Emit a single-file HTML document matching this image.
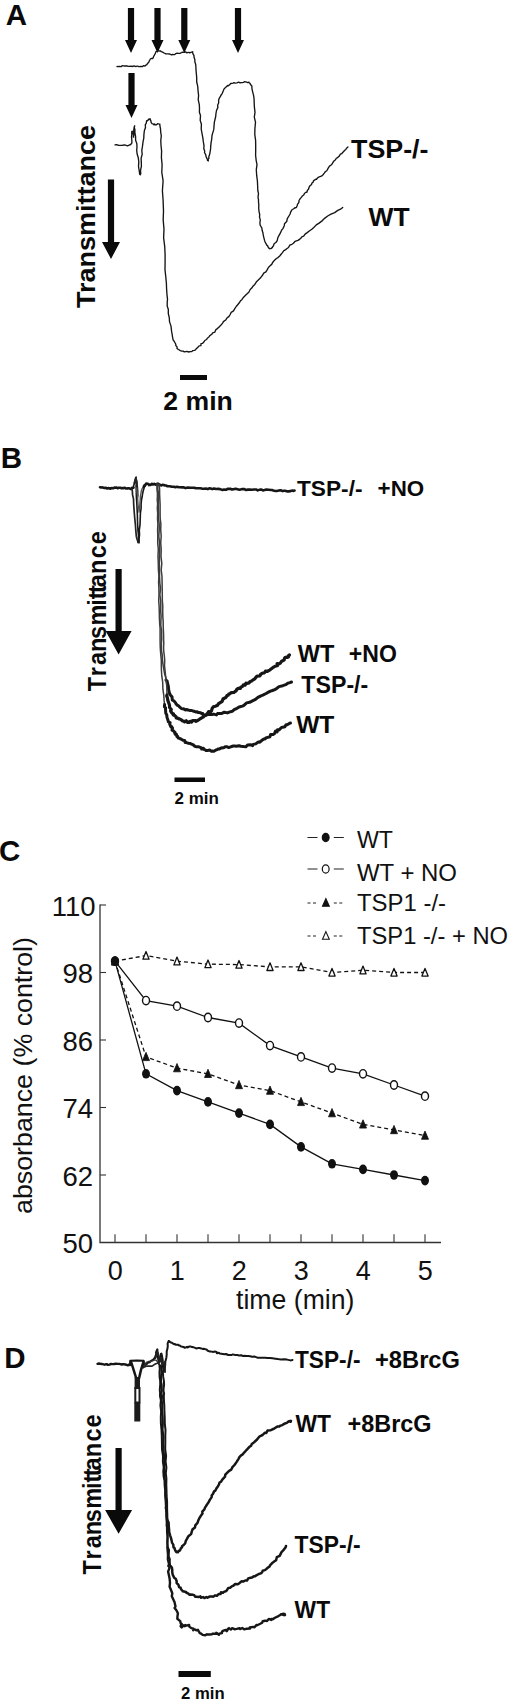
<!DOCTYPE html>
<html><head><meta charset="utf-8"><title>Figure</title>
<style>
html,body{margin:0;padding:0;background:#fff;}
svg{display:block;font-family:"Liberation Sans",sans-serif;}
</style></head><body>
<svg width="520" height="1705" viewBox="0 0 520 1705">
<rect width="520" height="1705" fill="#fff"/>
<text x="5.8" y="24.5" font-size="29.5" font-weight="bold" text-anchor="start" fill="#0a0a0a" >A</text>
<path d="M127.9 8.0H134.1V40.0H137.0L131.0 53.0L125.0 40.0H127.9Z" fill="#0a0a0a"/>
<path d="M154.4 8.0H160.6V40.0H163.5L157.5 53.0L151.5 40.0H154.4Z" fill="#0a0a0a"/>
<path d="M181.2 8.0H187.4V40.0H190.3L184.3 53.0L178.3 40.0H181.2Z" fill="#0a0a0a"/>
<path d="M234.9 8.0H241.1V40.0H244.0L238.0 53.0L232.0 40.0H234.9Z" fill="#0a0a0a"/>
<path d="M128.4 73.0H134.6V105.0H137.5L131.5 118.0L125.5 105.0H128.4Z" fill="#0a0a0a"/>
<path d="M107.9 179.5H114.1V242.0H120.0L111.0 259.0L102.0 242.0H107.9Z" fill="#0a0a0a"/>
<text transform="translate(95.0 308.0) rotate(-90)" font-size="26" font-weight="bold" fill="#0a0a0a" textLength="183.0" lengthAdjust="spacingAndGlyphs">Transmittance</text>
<polyline points="117.0,66.5 118.0,66.6 119.1,66.3 121.3,66.6 122.1,65.7 123.5,65.9 124.9,66.0 126.9,65.8 128.3,66.3 129.0,66.3 130.7,66.2 132.3,66.5 134.1,65.9 135.9,66.6 137.2,66.0 138.9,66.7 141.0,66.4 142.5,66.6 143.3,65.7 145.0,66.0 145.8,65.2 146.9,64.6 147.6,63.3 148.6,62.6 149.4,60.7 149.8,60.0 150.3,59.0 151.2,58.5 151.7,58.5 152.5,58.5 153.2,57.7 153.6,56.5 154.5,54.9 155.4,53.2 156.0,51.6 158.0,50.7 158.7,50.9 159.8,51.0 160.7,51.0 161.3,51.7 162.6,52.1 164.1,53.0 165.8,53.9 168.0,53.9 169.7,54.0 171.5,54.9 172.6,54.5 173.9,54.6 174.8,54.5 175.9,53.6 177.1,53.2 178.0,53.4 180.1,53.3 181.7,52.5 182.3,52.1 184.5,52.3 185.1,52.0 185.9,51.9 186.7,52.9 188.3,52.3 188.9,52.3 189.6,52.9 190.9,52.3 191.3,52.1 192.8,51.9 192.5,52.0 193.1,54.2 194.0,55.7 194.0,57.0 194.9,60.0 194.8,61.5 195.7,64.5 195.9,67.3 196.1,71.2 196.4,74.2 196.7,77.6 196.7,82.0 197.7,86.1 198.1,91.4 198.6,95.5 198.2,99.7 199.3,104.6 199.5,108.0 199.4,112.3 200.5,115.5 200.2,120.4 201.4,124.2 201.2,129.0 202.0,133.3 202.9,138.2 203.3,141.7 204.0,145.6 203.8,148.7 204.7,151.1 204.5,152.5 205.8,154.8 206.0,156.5 207.0,158.6 207.4,159.5 207.5,160.4 208.4,160.9 207.9,159.8 208.9,158.3 208.8,156.8 209.6,154.6 210.1,151.9 210.6,148.9 210.7,146.4 211.1,142.4 211.7,139.3 212.0,135.5 212.9,132.4 213.7,129.9 214.0,126.5 214.3,122.6 214.9,119.9 215.7,116.5 215.9,114.0 216.5,110.5 217.9,107.4 217.6,105.2 218.7,102.8 218.6,100.4 219.2,98.3 220.6,96.2 220.8,95.5 222.3,93.3 222.8,91.9 223.3,90.8 223.8,89.5 224.5,88.4 226.0,87.1 226.7,86.4 227.6,85.5 228.1,85.9 229.5,84.7 229.6,84.9 230.7,83.5 232.0,83.4 233.1,83.1 234.0,82.7 235.0,83.1 236.9,82.9 238.6,82.2 240.1,82.9 241.0,82.6 242.0,82.7 243.4,82.3 244.7,81.7 246.5,82.1 247.7,82.6 248.9,82.1 249.3,83.0 250.0,83.4 250.5,84.5 250.9,85.0 251.7,85.6 251.9,86.9 251.9,88.2 252.3,90.3 253.0,93.1 253.7,95.9 254.1,99.3 254.2,103.3 254.4,107.2 255.0,112.3 254.3,117.1 255.5,122.2 254.9,128.8 254.8,134.7 255.6,140.3 255.7,145.7 255.7,150.3 255.6,155.2 256.2,160.6 257.0,164.6 256.3,169.7 256.7,175.7 257.4,180.8 257.6,185.1 257.8,190.5 258.5,193.7 258.0,197.2 258.5,199.6 258.5,202.0 258.8,204.9 258.7,208.2 259.0,211.3 259.7,214.5 259.5,217.1 260.3,219.9 259.9,222.8 260.1,224.9 260.8,226.2 261.9,228.2 262.1,230.3 263.0,233.0 263.2,234.8 263.9,237.8 264.5,240.2 265.1,242.0 266.0,243.6 266.6,244.7 266.7,245.2 267.6,245.7 268.0,247.0 268.7,247.3 268.5,248.0 269.5,248.5 269.8,248.8 270.1,248.6 270.9,248.6 272.5,247.4 272.3,247.1 273.5,245.7 274.1,243.8 275.9,242.5 277.2,240.6 277.8,237.8 279.2,235.1 280.3,233.2 281.7,230.0 282.9,228.6 284.3,225.8 284.5,223.8 286.7,221.5 287.3,218.7 288.9,216.0 290.1,214.0 290.5,212.3 291.9,209.8 292.6,209.5 293.6,208.8 295.2,207.6 295.6,207.9 296.5,207.2 297.1,205.7 297.5,204.4 298.9,202.4 299.0,200.5 300.1,198.8 301.1,197.6 302.1,196.3 303.9,194.8 304.4,193.6 305.3,192.6 307.0,192.0 307.4,190.3 308.5,189.3 308.8,188.3 309.0,187.4 309.9,185.8 311.6,184.4 311.8,183.3 313.3,182.0 313.3,181.2 314.1,180.3 316.0,179.2 316.5,179.4 317.1,178.4 318.0,177.6 319.3,176.8 321.4,176.2 322.8,175.0 324.3,173.1 325.5,171.5 326.8,170.7 328.2,168.1 329.5,166.1 331.5,164.8 332.6,163.2 333.7,161.2 334.3,160.7 335.5,159.8 336.1,158.5 337.5,157.7 338.4,156.7 339.3,156.1 339.9,154.9 340.4,154.2 341.7,153.7 342.7,152.5 344.8,150.3 345.8,149.4 347.1,147.7 347.9,147.0" fill="none" stroke="#141414" stroke-width="1.35" stroke-linejoin="round" stroke-linecap="round" />
<polyline points="115.0,144.8 116.3,144.6 117.6,144.9 118.3,145.3 119.9,145.3 122.1,145.4 124.1,145.0 125.5,145.2 127.4,145.8 129.2,145.1 130.7,144.5 131.9,142.8 131.8,139.8 131.5,137.1 131.8,134.3 131.7,133.2 131.8,131.5 131.9,131.3 132.2,131.2 133.3,132.0 133.4,132.2 133.0,133.4 133.2,134.0 133.5,135.6 133.6,137.2 133.2,137.0 133.8,135.6 133.8,132.2 133.8,129.6 134.2,127.1 134.7,125.8 134.3,127.3 134.9,129.7 134.9,132.5 135.6,136.7 135.6,140.3 136.8,143.5 137.0,146.7 136.7,150.5 137.2,154.3 138.3,157.8 138.8,162.0 138.5,166.7 139.2,170.5 139.7,174.3 140.3,174.8 140.8,173.5 140.5,170.7 141.4,166.1 141.3,162.1 141.1,158.2 142.2,154.4 141.8,150.3 142.5,146.2 143.1,141.3 143.8,138.1 143.9,134.6 144.4,130.5 145.5,127.6 145.3,124.6 146.2,123.5 146.4,122.0 146.6,120.9 147.0,120.6 147.7,120.5 147.5,120.7 148.2,120.0 148.4,119.2 149.3,119.3 150.0,118.8 150.4,119.0 150.1,119.6 150.9,120.9 151.2,122.7 152.0,123.7 152.9,123.8 153.3,124.0 153.7,124.7 154.6,124.0 154.8,124.8 156.2,124.7 156.5,124.7 157.8,123.6 158.2,123.9 159.9,124.1 159.8,125.2 160.1,127.0 160.5,128.6 160.7,132.1 161.3,135.9 160.8,140.2 161.0,145.2 161.6,150.9 161.4,157.5 162.1,164.6 161.8,172.3 163.1,180.8 162.4,190.8 163.1,200.2 163.5,210.9 163.2,220.1 164.0,229.4 163.6,237.7 164.7,246.3 165.1,254.4 165.1,262.1 165.0,269.8 165.7,276.0 166.4,283.5 166.6,289.0 167.0,294.8 167.5,299.1 167.2,302.7 167.2,306.1 168.3,309.3 168.3,313.5 169.3,317.8 169.5,321.6 171.0,326.1 171.6,331.4 172.2,334.7 172.6,337.3 173.1,339.8 174.4,341.7 175.8,344.3 175.8,345.5 177.1,346.9 177.0,348.4 177.8,349.1 178.7,349.5 179.4,350.1 180.4,350.6 181.7,351.1 183.2,351.1 184.3,351.9 185.8,351.6 186.9,351.4 188.8,352.0 190.0,351.6 192.0,351.5 192.6,350.6 194.6,350.4 195.7,349.4 196.3,348.8 197.9,347.3 199.1,345.9 200.9,345.7 201.0,343.6 202.5,343.4 203.8,342.1 204.8,340.5 206.6,339.5 207.3,338.2 208.9,337.0 209.8,335.6 211.8,334.3 212.6,332.9 214.9,332.1 215.9,329.6 217.4,328.6 219.1,326.9 221.0,325.1 222.6,323.1 223.4,321.6 226.0,319.7 226.7,318.2 229.0,316.4 230.2,314.5 231.2,312.3 233.5,310.9 234.8,308.6 236.2,306.5 237.3,305.2 239.3,302.8 240.6,300.7 242.0,299.4 243.6,297.2 245.8,295.1 247.4,293.6 248.8,292.2 250.2,289.5 251.7,288.1 252.9,286.3 254.8,284.4 256.1,282.3 257.3,280.9 259.8,278.5 261.0,277.2 262.7,275.0 263.7,273.1 265.9,271.9 267.4,269.4 268.4,267.5 270.2,265.6 271.7,264.4 273.0,261.9 274.3,260.6 276.4,258.5 278.0,257.6 279.7,256.0 281.5,253.8 282.2,252.9 283.9,250.6 285.7,249.6 286.7,248.8 288.5,247.5 289.8,245.2 291.9,244.3 293.4,243.3 294.7,241.7 295.7,241.2 298.0,240.4 299.4,239.4 301.0,238.0 301.7,237.0 303.9,235.9 305.1,234.1 307.2,232.6 309.3,231.0 311.8,229.3 313.8,227.5 316.3,224.9 319.1,223.1 322.4,220.6 324.9,218.1 327.7,216.0 331.0,214.1 334.7,212.6 337.8,210.4 340.5,209.2 342.7,207.5" fill="none" stroke="#141414" stroke-width="1.35" stroke-linejoin="round" stroke-linecap="round" />
<text x="351.0" y="157.5" font-size="26" font-weight="bold" text-anchor="start" fill="#0a0a0a" textLength="77.5" lengthAdjust="spacingAndGlyphs" >TSP-/-</text>
<text x="368.5" y="225.5" font-size="26" font-weight="bold" text-anchor="start" fill="#0a0a0a" textLength="41.0" lengthAdjust="spacingAndGlyphs" >WT</text>
<rect x="180" y="375" width="27" height="5" fill="#0a0a0a"/>
<text x="163.3" y="409.5" font-size="26" font-weight="bold" text-anchor="start" fill="#0a0a0a" textLength="69.5" lengthAdjust="spacingAndGlyphs" >2 min</text>
<text x="0.8" y="467.8" font-size="29.5" font-weight="bold" text-anchor="start" fill="#0a0a0a" >B</text>
<text transform="translate(105.5 690.8) rotate(-90) scale(1 1.080)" x="-0.5 14.6 25.7 38.8 51.8 65.3 85.0 91.5 97.7 103.6 116.8 132.6 146.6" font-size="23.5" font-weight="bold" fill="#0a0a0a">Transmittance</text>
<path d="M115.5 569.0H121.7V631.0H131.6L118.6 654.5L105.6 631.0H115.5Z" fill="#0a0a0a"/>
<polyline points="100.0,487.3 101.2,487.5 102.0,487.4 102.8,487.5 104.4,487.9 105.4,488.0 105.6,487.8 107.1,488.5 108.2,488.1 109.2,488.4 110.5,488.4 110.5,488.7 111.6,488.0 113.5,488.2 114.2,487.8 114.9,487.6 116.2,487.7 116.6,487.5 117.6,488.3 118.7,487.7 120.2,487.8 121.5,488.2 122.5,488.1 123.5,488.1 125.1,487.8 125.7,488.5 127.3,488.5 128.0,488.2 129.3,488.3 130.4,488.9 131.2,488.7 132.1,488.5 132.1,487.9 132.4,488.0 133.5,487.8 133.5,487.5" fill="none" stroke="#161616" stroke-width="2.6" stroke-linejoin="round" stroke-linecap="round" />
<polyline points="133.5,486.5 133.6,485.6 134.3,483.9 134.7,482.1 135.1,480.7 135.2,479.9 135.5,478.3 135.9,477.4 136.1,477.0 136.1,477.6 135.9,478.4 136.1,480.0 136.7,482.1 136.5,484.1 136.1,486.0 136.2,488.4 136.3,492.2 136.4,497.0 136.8,502.8 137.1,509.1 137.4,515.1 137.5,520.8 137.7,525.8 138.0,530.8 138.5,534.8 138.4,538.4 138.3,541.2 138.7,542.7 139.1,542.8 139.1,541.3 139.1,538.3 139.5,534.6 139.3,530.0 140.0,524.8 140.2,519.3 140.4,513.2 141.1,508.1 141.1,504.0 141.5,499.8 142.2,496.5 142.5,494.2 143.0,491.8 143.5,489.8 143.9,488.8 144.1,487.2 144.7,486.4 145.0,485.7 145.6,485.2 146.0,484.5" fill="none" stroke="#161616" stroke-width="1.6" stroke-linejoin="round" stroke-linecap="round" />
<polyline points="131.8,489.0 132.4,491.2 132.5,494.6 133.5,498.9 133.7,504.5 134.2,511.7 134.7,517.7 135.4,524.7 135.8,530.7 136.3,536.2 137.0,539.0 137.7,541.1 138.0,542.5" fill="none" stroke="#222" stroke-width="1.7" stroke-linejoin="round" stroke-linecap="round" />
<polyline points="134.5,483.0 135.2,480.6 135.9,479.0 136.5,481.1 136.9,485.2 137.4,491.0 137.5,496.0" fill="none" stroke="#222" stroke-width="2.2" stroke-linejoin="round" stroke-linecap="round" />
<polyline points="136.8,488.0 136.9,491.4 137.7,495.3 137.7,499.8 138.1,505.1 138.9,509.8 139.0,512.1 139.6,509.7 139.8,504.7 140.2,500.0 140.4,496.5 141.0,492.9 141.5,490.2 142.2,488.4 143.6,486.9 144.0,486.5" fill="none" stroke="#555" stroke-width="1.4" stroke-linejoin="round" stroke-linecap="round" />
<polyline points="143.8,487.0 144.0,486.0 144.8,485.9 144.4,485.5 145.9,484.2 146.3,483.5 146.7,483.7 146.6,483.8 147.8,483.7 148.8,484.4 149.0,485.1 150.1,484.8 150.4,484.9 150.9,484.5 151.8,483.9 152.5,484.0 152.3,484.5 153.3,484.4 154.2,483.9 154.0,484.2 155.1,484.3 155.7,484.3 155.5,484.6 156.5,484.0 156.7,484.4 157.6,483.6 158.0,484.7 158.5,483.9 159.0,484.1 159.7,484.8 161.4,485.5 162.2,485.0 162.6,484.7 163.5,485.0 164.2,485.1 165.0,485.5 166.3,485.5 167.2,486.1 169.3,486.2 171.0,486.5 171.9,486.7 174.0,486.8 175.2,487.2 177.1,486.8 178.8,487.2 180.3,487.2 182.1,487.4 183.5,487.3 185.5,488.1 187.9,487.5 190.3,487.8 192.2,487.7 193.7,487.7 195.8,488.1 198.2,488.3 199.9,488.2 201.9,488.6 203.6,488.8 206.5,488.6 207.8,489.1 209.6,488.3 212.3,489.1 213.9,488.5 216.2,489.0 218.4,488.9 220.0,489.1 222.5,490.0 224.1,489.6 226.4,489.7 227.6,488.9 230.3,488.8 231.9,489.5 234.0,489.1 235.7,488.7 238.4,489.4 239.6,489.7 242.4,489.1 244.4,489.0 245.7,490.0 248.0,489.6 249.8,489.5 251.7,489.8 254.1,489.5 256.4,489.5 257.7,490.4 259.9,489.6 261.6,489.6 263.0,490.4 264.5,490.1 266.4,489.5 268.4,489.8 268.9,489.8 270.9,490.0 272.0,490.0 273.3,490.4 275.5,491.0 276.6,491.0 277.9,490.7 280.2,490.3 281.6,490.6 282.6,491.1 284.2,490.7 285.0,490.8 286.7,491.3 287.4,491.4 288.7,491.4 290.5,491.1 291.3,490.8 292.9,490.6 293.3,490.9 294.5,490.6" fill="none" stroke="#161616" stroke-width="2.6" stroke-linejoin="round" stroke-linecap="round" />
<polyline points="157.8,484.0 158.0,485.4 157.7,487.9 157.9,489.8 158.5,492.8 158.2,496.4 158.4,499.8 158.3,504.1 158.3,508.9 158.5,513.2 158.5,518.5 159.2,524.2 159.2,530.3 158.8,536.2 159.5,542.5 159.7,549.7 159.5,557.0 159.3,563.8 159.5,570.0 159.5,576.2 159.8,582.8 160.5,588.4 159.9,594.8 160.7,600.8 160.8,606.2 160.7,610.9 161.1,616.4 160.9,620.9 160.8,625.9 161.6,630.7 161.6,634.9 161.7,639.0 161.4,643.3 161.4,647.5 161.5,651.0 162.2,654.7 162.3,658.6 162.7,662.3 163.4,666.9 164.1,670.9 164.7,674.4 165.9,677.3 166.0,680.0" fill="none" stroke="#3c3c3c" stroke-width="1.5" stroke-linejoin="round" stroke-linecap="round" /><polyline points="166.0,680.0 167.1,681.1 167.7,684.0 168.4,686.7 168.6,689.4 169.3,692.6 170.2,694.7 172.1,697.0 172.1,697.5 172.3,700.1 173.5,700.6 174.6,701.6 175.4,702.6 175.8,703.5 177.1,705.2 177.2,705.0 178.8,706.0 179.4,706.7 180.1,707.4 180.3,707.6 181.6,708.6 182.8,708.9 183.9,708.8 185.2,709.9 185.9,709.8 186.5,709.4 187.7,710.1 188.6,710.1 190.1,710.5 191.6,710.6 191.8,710.5 193.3,711.2 194.4,711.3 196.2,712.1 197.3,711.8 198.1,712.6 198.7,712.4 200.6,712.7 201.6,713.6 202.7,713.5 202.6,714.4 204.7,715.1 205.7,715.2 207.6,714.6 209.0,714.6 212.1,714.5 213.7,714.1 216.5,714.9 217.5,713.6 220.7,713.4 221.9,713.4 224.3,712.2 227.4,712.9 229.2,712.1 232.2,711.3 234.2,709.6 237.0,708.3 239.1,707.0 242.4,706.1 243.9,705.4 246.6,702.9 249.6,702.3 252.4,700.9 255.0,699.7 257.9,697.4 261.0,695.8 262.8,695.2 266.1,693.5 267.4,692.7 270.5,691.1 272.4,690.5 274.8,689.6 276.6,688.5 279.0,686.6 282.8,685.7 285.7,684.7 288.1,683.1 289.9,682.6 291.5,682.0" fill="none" stroke="#161616" stroke-width="3.0" stroke-linejoin="round" stroke-linecap="round" />
<polyline points="159.2,484.0 159.1,485.5 159.5,488.0 159.6,489.8 159.6,492.9 159.7,496.3 159.9,500.2 160.1,504.4 160.1,509.0 160.1,513.6 160.2,518.5 160.9,524.3 160.7,529.6 161.2,536.3 160.7,542.6 161.2,549.3 161.0,556.7 161.8,563.3 161.2,570.0 162.0,576.5 162.1,582.8 162.2,588.3 162.3,595.0 162.3,600.3 162.8,606.2 162.7,610.9 162.8,616.3 163.2,621.6 163.2,625.8 163.4,630.5 163.6,634.8 163.6,639.5 163.8,643.2 163.6,646.9 163.7,651.4 164.3,655.5 164.7,660.1 164.5,665.6 165.2,671.8 165.8,679.4 166.7,685.3 166.9,690.7 167.0,695.0" fill="none" stroke="#3c3c3c" stroke-width="1.5" stroke-linejoin="round" stroke-linecap="round" /><polyline points="167.0,695.0 166.7,695.9 167.4,697.8 167.8,700.4 169.2,704.2 169.5,705.3 169.6,707.4 171.3,709.5 170.6,711.0 171.3,712.2 172.3,713.3 173.5,714.0 173.3,714.9 174.8,715.5 176.3,717.1 176.2,718.0 178.3,718.4 179.0,718.9 179.4,718.8 181.5,719.9 182.1,720.7 183.6,721.1 183.9,721.1 184.6,721.9 186.2,720.8 187.4,722.4 188.7,721.9 189.2,722.4 190.4,721.3 191.6,722.1 191.9,721.1 193.1,720.6 194.6,720.6 195.5,720.7 195.9,721.3 198.1,720.2 199.2,719.5 199.5,719.1 201.1,718.3 201.8,717.8 203.4,716.9 204.8,715.4 206.0,715.0 207.7,713.2 208.6,711.6 210.5,711.9 211.6,710.6 212.1,708.5 213.4,706.8 215.3,706.2 217.6,705.3 218.3,703.9 221.0,702.1 222.2,701.3 223.0,698.9 223.4,698.8 224.9,697.8 224.8,697.9 225.9,697.5 226.4,696.7 227.0,695.6 228.2,695.2 228.8,694.1 229.9,693.7 231.3,692.6 234.0,692.5 234.9,691.5 236.1,691.0 236.6,689.6 238.2,688.4 240.4,688.4 240.7,687.2 242.6,686.4 243.4,684.8 245.2,685.1 246.0,683.2 246.7,683.5 249.1,682.9 249.8,681.7 251.6,681.1 253.3,679.6 254.1,679.5 255.8,677.6 256.0,677.1 257.3,676.1 259.6,675.9 260.6,675.1 260.6,674.3 262.1,673.3 264.2,672.9 265.2,671.9 265.5,671.1 267.0,671.5 269.7,670.1 271.0,669.0 272.3,668.1 273.1,667.4 273.9,667.0 275.0,666.3 277.3,665.8 277.1,663.5 278.9,664.0 280.3,663.1 281.5,661.4 282.2,660.9 284.2,660.1 284.5,658.3 285.3,657.3 286.9,657.5 288.4,656.9 288.4,656.1 288.1,656.0 288.6,655.6 289.3,655.2 289.4,655.0" fill="none" stroke="#161616" stroke-width="3.2" stroke-linejoin="round" stroke-linecap="round" />
<polyline points="156.8,484.0 157.0,485.3 156.9,487.3 157.0,490.1 157.4,492.8 157.4,496.6 157.2,499.7 157.6,503.8 157.3,508.4 157.7,513.5 157.5,518.4 157.9,524.1 157.6,530.1 157.8,535.8 157.7,543.1 158.3,549.3 158.0,556.4 158.3,563.7 158.4,569.7 158.9,576.0 158.6,582.5 158.9,588.2 159.0,594.4 158.7,600.5 159.1,605.9 159.3,612.1 159.4,618.0 159.7,623.6 160.1,628.7 160.1,634.3 160.1,640.0 160.2,645.6 160.4,650.0 160.8,654.8 161.3,660.2 161.3,665.0 161.4,669.9 161.8,676.2 162.7,682.1 162.9,689.2 163.8,695.4 164.1,700.4 164.6,704.6" fill="none" stroke="#3c3c3c" stroke-width="1.5" stroke-linejoin="round" stroke-linecap="round" /><polyline points="164.6,704.6 164.4,706.8 165.6,707.7 165.5,709.5 165.8,713.3 166.8,715.1 167.0,717.5 167.4,718.3 167.7,719.5 168.5,722.0 170.1,722.7 169.7,724.1 170.9,726.9 171.5,726.4 172.5,728.1 172.0,730.2 172.8,730.2 175.1,732.6 174.7,732.8 175.2,734.2 176.4,734.3 176.9,736.5 177.6,736.3 178.3,738.1 180.6,738.6 180.3,738.8 181.8,739.5 183.0,740.3 184.8,740.5 185.1,742.4 186.5,742.6 188.4,743.2 190.5,743.4 190.3,743.6 193.4,744.9 193.6,745.3 194.9,746.3 196.0,746.7 198.4,746.7 200.1,747.3 201.4,747.8 201.7,749.1 203.4,748.2 203.9,749.3 205.3,749.8 206.1,750.6 207.6,750.5 209.8,750.1 211.1,751.2 211.7,750.9 213.9,751.3 215.9,750.0 217.2,749.6 218.0,748.9 219.5,748.9 221.5,747.8 222.0,748.0 224.2,747.6 225.0,746.7 227.2,746.8 228.7,747.6 229.9,747.2 233.2,746.0 234.8,746.1 236.3,746.3 239.0,745.7 240.9,746.2 243.5,746.6 245.9,746.8 247.6,744.9 250.5,744.7 252.6,745.6 253.2,744.4 255.7,743.9 257.6,742.5 258.7,741.9 259.9,742.2 262.1,740.2 263.4,739.2 265.2,738.8 265.6,738.2 266.8,737.6 270.0,736.7 270.6,734.4 273.1,734.6 274.5,733.6 275.5,731.1 277.1,731.9 277.5,729.8 279.1,729.9 281.2,727.7 282.7,727.2 284.9,726.7 286.0,724.8 287.2,724.8 289.7,723.2 290.5,723.0" fill="none" stroke="#161616" stroke-width="3.0" stroke-linejoin="round" stroke-linecap="round" />
<text x="297.0" y="495.8" font-size="22.6" font-weight="bold" text-anchor="start" fill="#0a0a0a" textLength="65.5" lengthAdjust="spacingAndGlyphs" >TSP-/-</text>
<text x="377.6" y="495.8" font-size="22.6" font-weight="bold" text-anchor="start" fill="#0a0a0a" textLength="46.6" lengthAdjust="spacingAndGlyphs" >+NO</text>
<text x="297.8" y="662.3" font-size="23.2" font-weight="bold" text-anchor="start" fill="#0a0a0a" textLength="36.5" lengthAdjust="spacingAndGlyphs" >WT</text>
<text x="348.8" y="662.3" font-size="23.2" font-weight="bold" text-anchor="start" fill="#0a0a0a" textLength="48.0" lengthAdjust="spacingAndGlyphs" >+NO</text>
<text x="301.3" y="693.0" font-size="23.4" font-weight="bold" text-anchor="start" fill="#0a0a0a" textLength="67.0" lengthAdjust="spacingAndGlyphs" >TSP-/-</text>
<text x="296.2" y="733.0" font-size="23.2" font-weight="bold" text-anchor="start" fill="#0a0a0a" textLength="38.2" lengthAdjust="spacingAndGlyphs" >WT</text>
<rect x="174.5" y="777.5" width="30.5" height="4.5" fill="#0a0a0a"/>
<text x="174.5" y="803.8" font-size="16" font-weight="bold" text-anchor="start" fill="#0a0a0a" textLength="44.3" lengthAdjust="spacingAndGlyphs" >2 min</text>
<text x="-1.0" y="861.2" font-size="29.5" font-weight="bold" text-anchor="start" fill="#0a0a0a" >C</text>
<path d="M100 904.5V1242.5H441" fill="none" stroke="#333" stroke-width="1.3"/>
<path d="M100 905.0H106" stroke="#333" stroke-width="1.1"/>
<path d="M100 972.5H106" stroke="#333" stroke-width="1.1"/>
<path d="M100 1040.0H106" stroke="#333" stroke-width="1.1"/>
<path d="M100 1107.5H106" stroke="#333" stroke-width="1.1"/>
<path d="M100 1175.0H106" stroke="#333" stroke-width="1.1"/>
<path d="M115.0 1242.5V1234.2" stroke="#333" stroke-width="1.1"/>
<path d="M146.0 1242.5V1234.2" stroke="#333" stroke-width="1.1"/>
<path d="M177.0 1242.5V1234.2" stroke="#333" stroke-width="1.1"/>
<path d="M208.0 1242.5V1234.2" stroke="#333" stroke-width="1.1"/>
<path d="M239.0 1242.5V1234.2" stroke="#333" stroke-width="1.1"/>
<path d="M270.0 1242.5V1234.2" stroke="#333" stroke-width="1.1"/>
<path d="M301.0 1242.5V1234.2" stroke="#333" stroke-width="1.1"/>
<path d="M332.0 1242.5V1234.2" stroke="#333" stroke-width="1.1"/>
<path d="M363.0 1242.5V1234.2" stroke="#333" stroke-width="1.1"/>
<path d="M394.0 1242.5V1234.2" stroke="#333" stroke-width="1.1"/>
<path d="M425.0 1242.5V1234.2" stroke="#333" stroke-width="1.1"/>
<text x="95.6" y="915.7" font-size="27.5" font-weight="normal" text-anchor="end" fill="#111" >110</text>
<text x="93.0" y="983.2" font-size="27.5" font-weight="normal" text-anchor="end" fill="#111" >98</text>
<text x="93.0" y="1050.7" font-size="27.5" font-weight="normal" text-anchor="end" fill="#111" >86</text>
<text x="93.0" y="1118.2" font-size="27.5" font-weight="normal" text-anchor="end" fill="#111" >74</text>
<text x="93.0" y="1185.7" font-size="27.5" font-weight="normal" text-anchor="end" fill="#111" >62</text>
<text x="93.0" y="1253.2" font-size="27.5" font-weight="normal" text-anchor="end" fill="#111" >50</text>
<text x="115.3" y="1280.0" font-size="27" font-weight="normal" text-anchor="middle" fill="#111" >0</text>
<text x="177.3" y="1280.0" font-size="27" font-weight="normal" text-anchor="middle" fill="#111" >1</text>
<text x="239.3" y="1280.0" font-size="27" font-weight="normal" text-anchor="middle" fill="#111" >2</text>
<text x="301.3" y="1280.0" font-size="27" font-weight="normal" text-anchor="middle" fill="#111" >3</text>
<text x="363.3" y="1280.0" font-size="27" font-weight="normal" text-anchor="middle" fill="#111" >4</text>
<text x="425.3" y="1280.0" font-size="27" font-weight="normal" text-anchor="middle" fill="#111" >5</text>
<text x="236.0" y="1309.0" font-size="27" font-weight="normal" text-anchor="start" fill="#111" textLength="118.5" lengthAdjust="spacingAndGlyphs" >time (min)</text>
<text transform="translate(32.3 1214.0) rotate(-90)" font-size="26.5" font-weight="normal" fill="#111" textLength="277.0" lengthAdjust="spacingAndGlyphs">absorbance (% control)</text>
<polyline points="115.0,961.2 146.0,955.6 177.0,961.2 208.0,964.1 239.0,964.6 270.0,966.9 301.0,966.9 332.0,972.5 363.0,970.2 394.0,972.5 425.0,972.5" fill="none" stroke="#111" stroke-width="1.3" stroke-dasharray="4 3"/>
<polyline points="115.0,961.2 146.0,1056.9 177.0,1068.1 208.0,1073.8 239.0,1085.0 270.0,1090.6 301.0,1101.9 332.0,1113.1 363.0,1124.4 394.0,1130.0 425.0,1135.6" fill="none" stroke="#111" stroke-width="1.3" stroke-dasharray="4 3"/>
<polyline points="115.0,961.2 146.0,1000.6 177.0,1006.2 208.0,1017.5 239.0,1023.1 270.0,1045.6 301.0,1056.9 332.0,1068.1 363.0,1073.8 394.0,1085.0 425.0,1096.2" fill="none" stroke="#111" stroke-width="1.3"/>
<polyline points="115.0,961.2 146.0,1073.8 177.0,1090.6 208.0,1101.9 239.0,1113.1 270.0,1124.4 301.0,1146.9 332.0,1163.8 363.0,1169.4 394.0,1175.0 425.0,1180.6" fill="none" stroke="#111" stroke-width="1.3"/>
<path d="M115.0 957.1L118.1 964.9H111.9Z" fill="#fff" stroke="#111" stroke-width="1.3" stroke-linejoin="round"/>
<path d="M146.0 951.5L149.1 959.2H142.9Z" fill="#fff" stroke="#111" stroke-width="1.3" stroke-linejoin="round"/>
<path d="M177.0 957.1L180.1 964.9H173.9Z" fill="#fff" stroke="#111" stroke-width="1.3" stroke-linejoin="round"/>
<path d="M208.0 960.0L211.1 967.7H204.9Z" fill="#fff" stroke="#111" stroke-width="1.3" stroke-linejoin="round"/>
<path d="M239.0 960.5L242.1 968.2H235.9Z" fill="#fff" stroke="#111" stroke-width="1.3" stroke-linejoin="round"/>
<path d="M270.0 962.8L273.1 970.5H266.9Z" fill="#fff" stroke="#111" stroke-width="1.3" stroke-linejoin="round"/>
<path d="M301.0 962.8L304.1 970.5H297.9Z" fill="#fff" stroke="#111" stroke-width="1.3" stroke-linejoin="round"/>
<path d="M332.0 968.4L335.1 976.1H328.9Z" fill="#fff" stroke="#111" stroke-width="1.3" stroke-linejoin="round"/>
<path d="M363.0 966.1L366.1 973.9H359.9Z" fill="#fff" stroke="#111" stroke-width="1.3" stroke-linejoin="round"/>
<path d="M394.0 968.4L397.1 976.1H390.9Z" fill="#fff" stroke="#111" stroke-width="1.3" stroke-linejoin="round"/>
<path d="M425.0 968.4L428.1 976.1H421.9Z" fill="#fff" stroke="#111" stroke-width="1.3" stroke-linejoin="round"/>
<path d="M115.0 956.6L118.5 965.0H111.5Z" fill="#111" stroke="#111" stroke-width="0.8" stroke-linejoin="round"/>
<path d="M146.0 1052.3L149.5 1060.6H142.5Z" fill="#111" stroke="#111" stroke-width="0.8" stroke-linejoin="round"/>
<path d="M177.0 1063.5L180.5 1071.8H173.5Z" fill="#111" stroke="#111" stroke-width="0.8" stroke-linejoin="round"/>
<path d="M208.0 1069.2L211.5 1077.5H204.5Z" fill="#111" stroke="#111" stroke-width="0.8" stroke-linejoin="round"/>
<path d="M239.0 1080.4L242.5 1088.7H235.5Z" fill="#111" stroke="#111" stroke-width="0.8" stroke-linejoin="round"/>
<path d="M270.0 1086.0L273.5 1094.3H266.5Z" fill="#111" stroke="#111" stroke-width="0.8" stroke-linejoin="round"/>
<path d="M301.0 1097.3L304.5 1105.6H297.5Z" fill="#111" stroke="#111" stroke-width="0.8" stroke-linejoin="round"/>
<path d="M332.0 1108.5L335.5 1116.8H328.5Z" fill="#111" stroke="#111" stroke-width="0.8" stroke-linejoin="round"/>
<path d="M363.0 1119.8L366.5 1128.1H359.5Z" fill="#111" stroke="#111" stroke-width="0.8" stroke-linejoin="round"/>
<path d="M394.0 1125.4L397.5 1133.7H390.5Z" fill="#111" stroke="#111" stroke-width="0.8" stroke-linejoin="round"/>
<path d="M425.0 1131.0L428.5 1139.3H421.5Z" fill="#111" stroke="#111" stroke-width="0.8" stroke-linejoin="round"/>
<ellipse cx="115.0" cy="961.2" rx="3.5" ry="4.2" fill="#fff" stroke="#111" stroke-width="1.4"/>
<ellipse cx="146.0" cy="1000.6" rx="3.5" ry="4.2" fill="#fff" stroke="#111" stroke-width="1.4"/>
<ellipse cx="177.0" cy="1006.2" rx="3.5" ry="4.2" fill="#fff" stroke="#111" stroke-width="1.4"/>
<ellipse cx="208.0" cy="1017.5" rx="3.5" ry="4.2" fill="#fff" stroke="#111" stroke-width="1.4"/>
<ellipse cx="239.0" cy="1023.1" rx="3.5" ry="4.2" fill="#fff" stroke="#111" stroke-width="1.4"/>
<ellipse cx="270.0" cy="1045.6" rx="3.5" ry="4.2" fill="#fff" stroke="#111" stroke-width="1.4"/>
<ellipse cx="301.0" cy="1056.9" rx="3.5" ry="4.2" fill="#fff" stroke="#111" stroke-width="1.4"/>
<ellipse cx="332.0" cy="1068.1" rx="3.5" ry="4.2" fill="#fff" stroke="#111" stroke-width="1.4"/>
<ellipse cx="363.0" cy="1073.8" rx="3.5" ry="4.2" fill="#fff" stroke="#111" stroke-width="1.4"/>
<ellipse cx="394.0" cy="1085.0" rx="3.5" ry="4.2" fill="#fff" stroke="#111" stroke-width="1.4"/>
<ellipse cx="425.0" cy="1096.2" rx="3.5" ry="4.2" fill="#fff" stroke="#111" stroke-width="1.4"/>
<ellipse cx="115.0" cy="961.2" rx="4" ry="4.8" fill="#111"/>
<ellipse cx="146.0" cy="1073.8" rx="4" ry="4.8" fill="#111"/>
<ellipse cx="177.0" cy="1090.6" rx="4" ry="4.8" fill="#111"/>
<ellipse cx="208.0" cy="1101.9" rx="4" ry="4.8" fill="#111"/>
<ellipse cx="239.0" cy="1113.1" rx="4" ry="4.8" fill="#111"/>
<ellipse cx="270.0" cy="1124.4" rx="4" ry="4.8" fill="#111"/>
<ellipse cx="301.0" cy="1146.9" rx="4" ry="4.8" fill="#111"/>
<ellipse cx="332.0" cy="1163.8" rx="4" ry="4.8" fill="#111"/>
<ellipse cx="363.0" cy="1169.4" rx="4" ry="4.8" fill="#111"/>
<ellipse cx="394.0" cy="1175.0" rx="4" ry="4.8" fill="#111"/>
<ellipse cx="425.0" cy="1180.6" rx="4" ry="4.8" fill="#111"/>
<path d="M307.5 837.5H317.5M333.8 837.5H343.8" stroke="#222" stroke-width="1.2"/>
<ellipse cx="325.7" cy="837.5" rx="3.4" ry="4.1" fill="#111" stroke="#111" stroke-width="1.2"/>
<text x="357.0" y="847.5" font-size="24" font-weight="normal" text-anchor="start" fill="#111" textLength="36.0" lengthAdjust="spacingAndGlyphs" >WT</text>
<path d="M307.5 869.0H317.5M333.8 869.0H343.8" stroke="#222" stroke-width="1.2"/>
<ellipse cx="325.7" cy="869.0" rx="3.4" ry="4.1" fill="#fff" stroke="#111" stroke-width="1.2"/>
<text x="357.0" y="880.7" font-size="24" font-weight="normal" text-anchor="start" fill="#111" textLength="100.0" lengthAdjust="spacingAndGlyphs" >WT + NO</text>
<path d="M307.5 903.0H317.5M333.8 903.0H343.8" stroke="#222" stroke-width="1.2" stroke-dasharray="3 2.5"/>
<path d="M325.9 898.6L329.3 906.2H322.5Z" fill="#111" stroke="#111" stroke-width="1.1"/>
<text x="357.0" y="911.3" font-size="24" font-weight="normal" text-anchor="start" fill="#111" textLength="89.0" lengthAdjust="spacingAndGlyphs" >TSP1 -/-</text>
<path d="M307.5 936.0H317.5M333.8 936.0H343.8" stroke="#222" stroke-width="1.2" stroke-dasharray="3 2.5"/>
<path d="M325.9 931.6L329.3 939.2H322.5Z" fill="#fff" stroke="#111" stroke-width="1.1"/>
<text x="357.0" y="944.3" font-size="24" font-weight="normal" text-anchor="start" fill="#111" textLength="151.0" lengthAdjust="spacingAndGlyphs" >TSP1 -/- + NO</text>
<text x="4.2" y="1368.0" font-size="29.5" font-weight="bold" text-anchor="start" fill="#0a0a0a" >D</text>
<text transform="translate(101.3 1574.0) rotate(-90) scale(1 1.080)" x="-0.5 14.6 25.7 38.8 51.8 65.3 85.0 91.5 97.7 103.6 116.8 132.6 146.6" font-size="23.5" font-weight="bold" fill="#0a0a0a">Transmittance</text>
<path d="M115.5 1448.0H121.7V1510.0H132.1L118.6 1533.8L105.1 1510.0H115.5Z" fill="#0a0a0a"/>
<polyline points="97.5,1363.8 98.9,1363.5 100.3,1363.8 101.7,1364.0 102.6,1364.2 104.5,1364.7 105.7,1364.3 107.0,1364.1 107.7,1364.9 109.5,1364.6 111.0,1363.9 112.3,1364.1 114.0,1364.0 115.9,1363.7 117.4,1363.9 119.1,1363.9 120.5,1364.1 121.6,1364.5 122.9,1364.3 123.4,1364.1 125.4,1364.5 126.7,1364.9 127.8,1365.4 129.1,1364.5 130.0,1365.0" fill="none" stroke="#161616" stroke-width="2.4" stroke-linejoin="round" stroke-linecap="round" />
<polyline points="143.8,1366.0 144.7,1365.1 145.6,1365.0 146.7,1364.2 147.7,1362.9 149.7,1362.3 151.1,1360.8 152.3,1360.2 153.5,1359.2 154.4,1358.4 154.6,1357.7 155.4,1356.9 155.5,1355.8 156.2,1354.4 156.0,1352.3 157.0,1350.0 157.3,1349.3 157.5,1350.1 157.2,1351.4 158.0,1354.2 157.7,1356.0 158.1,1358.2 158.3,1360.1 158.7,1361.5 159.1,1362.8 158.9,1362.0 159.1,1361.2 159.4,1359.7 159.9,1358.1 160.2,1356.8 160.8,1355.5 160.9,1353.9 161.4,1353.6 161.8,1355.0 162.4,1358.1 162.8,1360.6 162.6,1362.7 163.7,1365.0 163.6,1367.5 164.2,1369.7 164.2,1369.7 164.7,1368.4 165.2,1365.0 165.3,1361.7 166.3,1357.9 166.7,1354.6 166.7,1351.6 167.5,1348.3 167.8,1345.8 167.6,1343.8 168.0,1342.4 168.8,1341.3 168.8,1341.0" fill="none" stroke="#161616" stroke-width="2.0" stroke-linejoin="round" stroke-linecap="round" />
<polyline points="168.8,1341.0 169.7,1341.5 169.7,1341.8 171.1,1342.6 171.9,1342.7 172.7,1343.4 174.0,1344.2 174.6,1343.9 176.0,1344.8 176.8,1344.8 178.4,1344.8 178.5,1345.3 180.2,1345.7 181.1,1346.6 182.5,1346.7 184.2,1347.2 184.5,1347.8 186.5,1347.2 187.1,1346.8 187.8,1347.4 188.9,1346.7 189.7,1346.5 190.4,1346.4 192.1,1347.2 192.5,1346.9 195.1,1347.9 196.1,1348.4 198.4,1348.1 199.6,1348.1 201.2,1348.4 202.5,1348.9 203.7,1348.8 205.4,1349.3 206.7,1349.5 207.3,1350.4 208.4,1351.1 209.8,1351.4 211.2,1351.6 212.3,1351.7 213.5,1351.9 214.8,1351.5 216.6,1351.9 216.8,1353.2 218.9,1352.7 219.7,1353.5 221.4,1353.7 224.3,1354.3 226.1,1354.0 228.1,1355.0 230.2,1354.9 231.7,1355.0 232.7,1354.4 235.2,1355.0 237.3,1355.0 239.1,1355.4 241.3,1355.2 243.0,1356.1 244.3,1355.7 246.2,1355.9 248.2,1356.0 250.2,1356.2 252.1,1356.8 254.8,1356.6 257.3,1357.7 260.4,1357.7 262.2,1357.8 265.3,1357.8 267.2,1358.1 269.9,1358.1 272.4,1358.3 275.4,1358.7 277.9,1359.1 280.9,1359.4 284.2,1359.2 287.0,1359.6 290.4,1360.4 292.5,1360.0" fill="none" stroke="#161616" stroke-width="2.0" stroke-linejoin="round" stroke-linecap="round" />
<polyline points="130.0,1365.0 130.2,1360.7 136.9,1360.4 143.7,1360.7 144.0,1365.0" fill="none" stroke="#161616" stroke-width="2.0" stroke-linejoin="round" stroke-linecap="round" />
<polyline points="131.0,1361.5 133.7,1370.1 136.3,1378.5" fill="none" stroke="#161616" stroke-width="2.5" stroke-linejoin="round" stroke-linecap="round" />
<polyline points="143.4,1362.0 141.0,1369.9 139.0,1378.5" fill="none" stroke="#161616" stroke-width="2.5" stroke-linejoin="round" stroke-linecap="round" />
<path d="M137.3 1377V1389" stroke="#1c1c1c" stroke-width="5.4"/>
<rect x="135.3" y="1388" width="4.2" height="14.5" fill="#fff" stroke="#1c1c1c" stroke-width="2"/>
<rect x="134.3" y="1402.5" width="6" height="19" fill="#1c1c1c"/>
<polyline points="144.0,1366.0 145.0,1365.0 145.7,1363.1 146.9,1362.0 148.8,1361.3 150.5,1361.4 151.9,1361.2 153.7,1360.4 154.6,1359.8 156.0,1360.1 157.5,1361.9 158.9,1364.5 160.0,1366.0" fill="none" stroke="#333" stroke-width="1.3" stroke-linejoin="round" stroke-linecap="round" />
<polyline points="143.0,1368.0 143.7,1367.3 144.5,1367.0 146.2,1366.3 148.1,1366.1 150.2,1366.1 152.1,1366.1 153.9,1364.8 155.9,1363.7 158.0,1363.1 159.6,1364.5 161.1,1366.4 162.0,1368.0" fill="none" stroke="#222" stroke-width="1.6" stroke-linejoin="round" stroke-linecap="round" />
<polyline points="155.5,1358.0 156.5,1354.5 157.5,1351.7 158.8,1356.6 159.5,1362.2 160.1,1360.0 160.8,1357.8 161.8,1361.9 162.3,1366.3 163.4,1363.9 164.6,1362.1 164.8,1366.8 165.0,1372.0" fill="none" stroke="#222" stroke-width="2.0" stroke-linejoin="round" stroke-linecap="round" />
<polyline points="159.5,1366.0 159.8,1368.7 159.5,1372.2 159.6,1376.8 160.2,1381.2 160.2,1385.1 159.9,1388.4 159.8,1390.5 160.1,1392.9 160.0,1396.0 160.9,1400.2 160.4,1405.3 161.1,1411.2 160.8,1417.4 160.9,1423.5 161.5,1429.9 161.8,1436.5 161.9,1442.5 162.0,1449.3 163.0,1455.8 162.9,1461.8 163.7,1467.1 163.3,1471.3 163.6,1476.4 164.5,1480.5 164.6,1485.0 165.1,1490.1 165.1,1494.9 165.5,1499.9 165.8,1504.5 166.0,1507.7" fill="none" stroke="#161616" stroke-width="2.0" stroke-linejoin="round" stroke-linecap="round" /><polyline points="166.0,1507.7 166.3,1509.5 166.6,1513.2 166.5,1515.6 167.0,1519.2 168.6,1522.6 168.8,1526.6 169.1,1529.8 169.2,1532.2 170.1,1535.3 171.1,1538.4 171.7,1541.0 172.1,1542.9 173.3,1544.6 173.5,1547.4 174.4,1547.9 175.1,1550.2 175.7,1551.0 176.3,1552.0 177.0,1552.2 177.4,1551.9 178.1,1552.1 178.3,1551.1 178.2,1551.1 179.6,1550.7 180.4,1549.6 180.9,1548.1 181.3,1548.0 182.1,1547.1 182.0,1546.2 183.9,1544.8 185.2,1543.2 185.9,1540.7 187.1,1538.7 188.4,1536.2 191.1,1534.1 191.8,1531.5 192.6,1529.3 195.0,1527.4 195.3,1525.3 197.5,1522.9 198.4,1520.2 199.1,1518.7 200.5,1516.3 202.5,1513.6 202.3,1511.6 204.4,1509.4 205.0,1507.7 206.2,1505.8 207.8,1503.4 208.6,1502.2 209.8,1499.9 211.7,1497.1 211.7,1495.3 212.8,1494.2 214.1,1491.4 215.4,1490.6 216.4,1488.4 217.3,1487.3 218.9,1484.6 219.6,1482.5 221.1,1481.6 222.3,1479.6 225.0,1476.7 225.3,1474.7 226.8,1473.2 229.1,1470.8 231.3,1469.6 232.4,1467.2 234.5,1465.0 235.8,1463.1 236.8,1461.6 238.7,1458.6 239.4,1457.1 241.1,1455.3 242.4,1454.6 244.4,1452.3 246.5,1450.0 247.1,1449.4 249.2,1447.1 251.1,1445.7 251.8,1443.9 253.9,1442.4 254.9,1441.5 257.1,1439.5 258.0,1438.3 259.3,1436.7 261.5,1435.5 262.6,1435.0 264.7,1432.8 266.3,1433.0 267.5,1430.6 270.8,1430.2 272.1,1429.5 274.6,1428.3 277.7,1426.4 279.3,1426.5 280.5,1425.6 282.4,1425.1 283.2,1424.4 284.3,1423.8 286.8,1422.9 288.2,1421.7 289.3,1421.1 290.6,1421.8 291.0,1420.8" fill="none" stroke="#161616" stroke-width="2.5" stroke-linejoin="round" stroke-linecap="round" />
<polyline points="161.0,1366.0 161.2,1368.3 161.5,1372.6 161.0,1376.5 161.0,1381.4 161.7,1384.7 161.7,1388.0 161.9,1390.4 161.5,1392.8 162.0,1396.4 161.8,1400.1 162.2,1405.0 162.1,1410.7 162.7,1416.8 162.9,1423.4 162.6,1429.7 163.3,1436.2 163.1,1443.0 163.4,1448.9 164.1,1455.5 164.6,1461.9 164.2,1467.6 164.6,1473.3 164.7,1478.7 165.6,1484.0 165.9,1490.4 165.7,1495.7 166.1,1502.0 165.8,1508.3 166.6,1514.2 166.5,1519.9 166.9,1526.5 167.0,1532.5 167.7,1539.1 167.5,1543.6 167.7,1547.7" fill="none" stroke="#161616" stroke-width="2.0" stroke-linejoin="round" stroke-linecap="round" /><polyline points="167.7,1547.7 168.8,1550.0 168.6,1553.1 168.5,1556.5 169.6,1559.3 169.5,1561.5 169.8,1565.0 171.3,1566.8 172.0,1567.9 172.3,1570.3 172.2,1571.7 172.7,1574.7 173.8,1576.8 174.1,1577.7 175.7,1578.8 176.7,1581.2 176.6,1583.1 178.2,1584.5 178.6,1585.2 179.1,1587.2 180.6,1587.6 181.1,1589.4 182.4,1590.6 182.8,1591.3 185.1,1591.7 186.3,1592.1 186.4,1592.8 188.1,1593.4 189.3,1594.7 190.6,1594.6 193.1,1594.8 194.2,1595.2 195.1,1596.7 196.5,1596.8 198.4,1597.0 200.4,1596.4 200.9,1597.7 203.3,1597.1 204.4,1598.1 206.4,1597.0 207.5,1597.7 209.1,1596.8 210.1,1596.5 212.3,1596.6 213.2,1596.7 213.6,1596.5 215.2,1595.4 216.9,1595.8 217.8,1594.8 218.9,1594.1 220.5,1594.1 221.0,1592.3 223.0,1592.7 223.9,1591.9 226.3,1591.0 227.0,1590.1 228.3,1587.9 230.1,1587.8 232.1,1586.1 233.3,1585.7 235.2,1584.0 237.8,1584.2 239.0,1583.5 241.4,1581.3 243.6,1581.4 245.2,1580.5 247.0,1580.6 248.2,1578.4 250.6,1577.7 252.1,1577.4 253.3,1576.6 254.8,1576.3 256.7,1575.2 258.9,1574.0 260.7,1573.4 262.2,1572.2 262.7,1570.7 264.8,1570.1 266.1,1569.3 267.5,1567.9 269.6,1566.5 270.0,1565.3 272.6,1562.7 274.5,1561.3 276.1,1560.2 276.8,1557.2 279.7,1555.9 281.5,1552.1 283.2,1550.4 285.5,1547.5 286.0,1546.0" fill="none" stroke="#161616" stroke-width="2.5" stroke-linejoin="round" stroke-linecap="round" />
<polyline points="163.0,1366.0 163.4,1368.3 162.9,1372.6 163.2,1376.9 163.9,1380.9 164.1,1384.7 163.6,1388.4 163.5,1391.0 164.1,1393.4 163.8,1395.8 163.9,1400.0 164.3,1405.4 164.4,1410.7 164.7,1417.5 164.8,1423.8 165.5,1429.8 165.3,1436.3 165.3,1442.8 165.2,1449.2 166.1,1455.8 165.6,1461.4 166.4,1467.6 165.8,1473.2 166.4,1478.6 166.3,1484.7 166.5,1489.8 166.6,1495.9 167.1,1501.7 167.1,1508.5 167.3,1514.0 167.4,1520.1 166.7,1525.5 167.5,1530.6 167.8,1535.4 167.2,1540.4 167.4,1544.9 167.4,1550.1 167.8,1554.5 167.7,1559.6 168.7,1563.5 168.5,1566.0" fill="none" stroke="#161616" stroke-width="2.0" stroke-linejoin="round" stroke-linecap="round" /><polyline points="168.5,1566.0 169.6,1567.7 168.1,1571.6 169.6,1578.4 170.0,1583.0 169.6,1586.7 170.6,1589.0 172.3,1593.3 171.8,1596.2 173.8,1600.6 174.5,1601.9 175.5,1606.6 174.6,1607.9 176.4,1610.2 177.9,1613.3 177.5,1616.1 177.3,1618.8 180.2,1621.1 180.8,1623.8 181.7,1624.0 180.6,1626.2 181.7,1627.4 183.7,1625.3 184.7,1626.2 185.9,1625.7 185.2,1625.0 186.7,1625.6 189.1,1624.9 189.3,1626.6 191.3,1628.1 193.5,1628.7 193.2,1630.2 193.5,1629.1 195.4,1629.6 196.3,1630.3 197.9,1629.8 199.4,1632.3 199.5,1632.9 201.5,1633.9 202.9,1634.9 205.3,1635.3 206.5,1634.3 207.2,1634.6 207.8,1634.4 209.4,1634.5 211.9,1634.2 212.8,1633.6 216.1,1633.7 216.3,1632.8 218.9,1634.8 219.4,1633.7 222.0,1633.1 222.0,1631.5 223.5,1630.6 225.7,1629.9 226.8,1631.2 228.2,1628.8 227.8,1629.0 229.0,1628.1 230.9,1629.6 232.0,1628.1 234.7,1629.2 234.5,1629.2 236.7,1628.9 239.6,1628.1 240.0,1629.1 242.3,1628.0 244.4,1629.4 246.6,1628.7 250.0,1628.6 249.7,1627.5 253.1,1626.9 254.5,1627.3 256.4,1625.0 257.3,1625.3 260.2,1623.8 262.2,1622.7 262.7,1621.2 265.2,1620.7 267.0,1621.1 268.8,1618.9 271.2,1620.0 271.3,1619.0 273.0,1619.3 273.6,1618.6 275.5,1617.5 278.4,1616.1 279.8,1615.2 281.4,1614.1 282.3,1614.7 283.9,1615.2 283.2,1613.7 284.2,1613.9 284.7,1613.9 283.6,1613.9 285.0,1615.0" fill="none" stroke="#161616" stroke-width="2.4" stroke-linejoin="round" stroke-linecap="round" />
<text x="295.0" y="1367.6" font-size="23" font-weight="bold" text-anchor="start" fill="#0a0a0a" textLength="65.5" lengthAdjust="spacingAndGlyphs" >TSP-/-</text>
<text x="375.0" y="1367.6" font-size="23" font-weight="bold" text-anchor="start" fill="#0a0a0a" textLength="85.0" lengthAdjust="spacingAndGlyphs" >+8BrcG</text>
<text x="295.4" y="1431.6" font-size="23" font-weight="bold" text-anchor="start" fill="#0a0a0a" textLength="35.5" lengthAdjust="spacingAndGlyphs" >WT</text>
<text x="347.5" y="1431.6" font-size="23" font-weight="bold" text-anchor="start" fill="#0a0a0a" textLength="84.0" lengthAdjust="spacingAndGlyphs" >+8BrcG</text>
<text x="294.6" y="1553.0" font-size="23" font-weight="bold" text-anchor="start" fill="#0a0a0a" textLength="66.0" lengthAdjust="spacingAndGlyphs" >TSP-/-</text>
<text x="294.6" y="1618.0" font-size="23" font-weight="bold" text-anchor="start" fill="#0a0a0a" textLength="35.5" lengthAdjust="spacingAndGlyphs" >WT</text>
<rect x="178.5" y="1671" width="32.3" height="6" fill="#0a0a0a"/>
<text x="181.0" y="1699.4" font-size="16" font-weight="bold" text-anchor="start" fill="#0a0a0a" textLength="43.6" lengthAdjust="spacingAndGlyphs" >2 min</text>
</svg>
</body></html>
